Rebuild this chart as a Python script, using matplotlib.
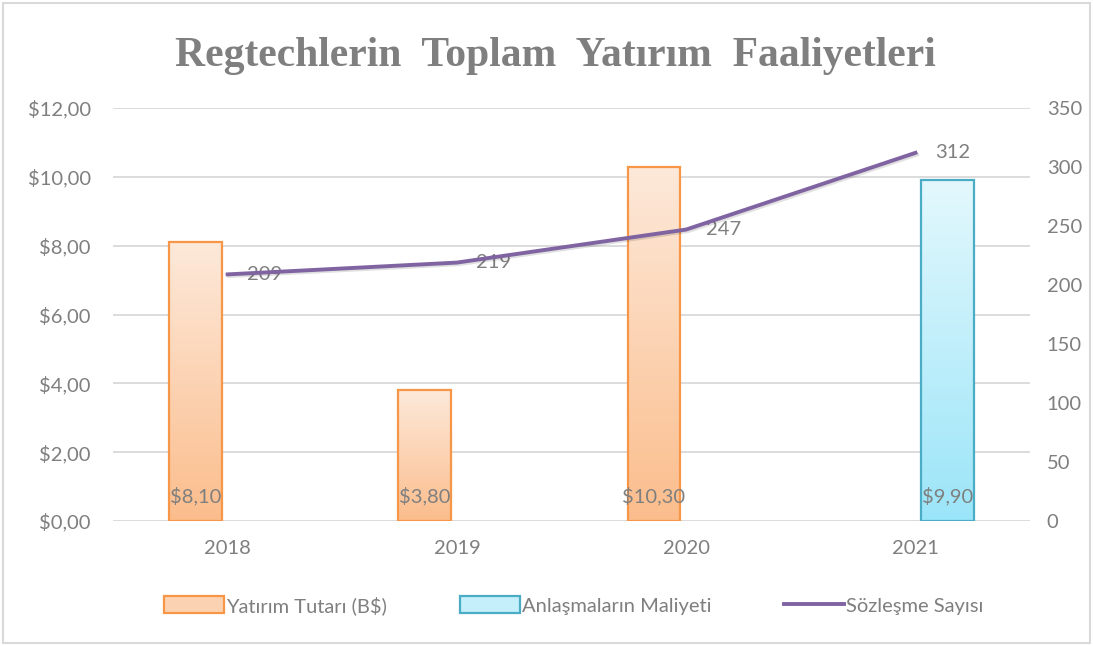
import numpy as np
import matplotlib
matplotlib.use("Agg")
import matplotlib.pyplot as plt
from matplotlib.patches import Rectangle, Patch
from matplotlib.lines import Line2D
import matplotlib.patheffects as pe
from matplotlib.colors import LinearSegmentedColormap

# data
years = ["2018", "2019", "2020", "2021"]
investment = [8.10, 3.80, 10.30, None]      # Yatırım Tutarı (B$)
deal_cost = [None, None, None, 9.90]         # Anlaşmaların Maliyeti
contracts = [209, 219, 247, 312]             # Sözleşme Sayısı

TITLE = "Regtechlerin  Toplam  Yatırım  Faaliyetleri"
GREY = "#7f7f7f"
GRID = "#d9d9d9"
ORANGE_EDGE = "#f79646"
BLUE_EDGE = "#4bacc6"
PURPLE = "#8064a2"
FS = 14.5

plt.rcParams["font.family"] = ["Lato", "DejaVu Sans"]

fig = plt.figure(figsize=(10.93, 6.46), dpi=100)
ax = fig.add_axes([0.1034, 0.1935, 0.8390, 0.6393])
ax2 = ax.twinx()

# outer frame
fig.patches.append(Rectangle((0.003, 0.005), 0.994, 0.99, transform=fig.transFigure,
                             fill=False, edgecolor=GRID, linewidth=1.5))

x = np.arange(len(years))
width = 0.23
offset = 0.14

orange_cmap = LinearSegmentedColormap.from_list("o", ["#fbbd8c", "#fde9da"])
blue_cmap = LinearSegmentedColormap.from_list("b", ["#9be5f8", "#e3f8fd"])
grad = np.linspace(0, 1, 256).reshape(-1, 1)


def gradient_bars(xs, vals, cmap, edge):
    for xi, v in zip(xs, vals):
        if v is None:
            continue
        ax.imshow(grad, cmap=cmap, origin="lower", aspect="auto",
                  extent=(xi - width / 2, xi + width / 2, 0, v), zorder=2)
        ax.bar(xi, v, width, facecolor="none", edgecolor=edge, linewidth=1.6, zorder=3)
        ax.annotate(f"${v:.2f}".replace(".", ","), (xi, 0), xytext=(0, 18),
                    textcoords="offset points", ha="center", va="center",
                    color=GREY, fontsize=FS, zorder=5)


gradient_bars(x - offset, investment, orange_cmap, ORANGE_EDGE)
gradient_bars(x + offset, deal_cost, blue_cmap, BLUE_EDGE)

ax.set_xlim(-0.5, len(years) - 0.5)
ax.set_ylim(0, 12)
ax.set_yticks(np.arange(0, 12.1, 2))
ax.set_yticklabels([f"${v:.2f}".replace(".", ",") for v in np.arange(0, 12.1, 2)])
ax.set_xticks(x)
ax.set_xticklabels(years)
ax.grid(axis="y", color=GRID, linewidth=1.3, zorder=0)
ax.set_axisbelow(True)

# line on secondary axis
ax2.plot(x, contracts, color=PURPLE, linewidth=2.8, zorder=4,
         path_effects=[pe.SimpleLineShadow(offset=(1.2, -1.2), alpha=0.12), pe.Normal()])
for xi, c in zip(x, contracts):
    ax2.annotate(str(c), (xi, c), xytext=(14, 0), textcoords="offset points",
                 ha="left", va="center", color=GREY, fontsize=FS)
ax2.set_ylim(0, 350)
ax2.set_yticks(np.arange(0, 351, 50))

for a in (ax, ax2):
    for s in a.spines.values():
        s.set_visible(False)
    a.tick_params(length=0, colors=GREY, labelsize=FS)
ax.tick_params(axis="y", pad=16)
ax.tick_params(axis="x", pad=14)
ax2.tick_params(axis="y", pad=12)

ax.set_title(TITLE, family="Liberation Serif", fontweight="bold", fontsize=30,
             color=GREY, pad=30, x=0.482)

handles = [Patch(facecolor="#fcd3b2", edgecolor=ORANGE_EDGE, linewidth=1.6),
           Patch(facecolor="#c4effb", edgecolor=BLUE_EDGE, linewidth=1.6),
           Line2D([0], [0], color=PURPLE, linewidth=2.8)]
labels = ["Yatırım Tutarı (B$)", "Anlaşmaların Maliyeti", "Sözleşme Sayısı"]
fig.legend(handles, labels, loc="center", bbox_to_anchor=(0.525, 0.063), ncol=3,
           frameon=False, fontsize=FS, labelcolor=GREY, handlelength=3.0,
           handleheight=0.9, handletextpad=0.1, columnspacing=3.6)

fig.savefig("out.png", dpi=100)
